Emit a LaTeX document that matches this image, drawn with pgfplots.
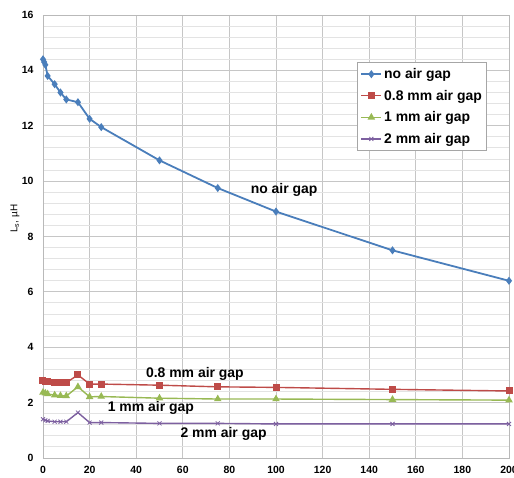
\documentclass[border=0pt]{standalone}
\usepackage{fontspec}
\setmainfont{Liberation Sans}
\usepackage{pgfplots}
\pgfplotsset{compat=1.18}
\definecolor{cblue}{HTML}{4A7EBB}
\definecolor{cred}{HTML}{BE4B48}
\definecolor{cgreen}{HTML}{98B954}
\definecolor{cpurple}{HTML}{7D60A0}
\begin{document}
\begin{tikzpicture}
\useasboundingbox (-43bp,-20bp) rectangle (471bp,458bp);
\begin{axis}[at={(0,0)}, anchor=south west, scale only axis,
  width=466bp, height=443bp,
  xmin=0, xmax=200, ymin=0, ymax=16,
  xtick={0,20,...,200}, ytick={0,2,...,16}, minor y tick num=4,
  grid=both,
  major grid style={draw=gray!45, line width=0.9bp},
  minor grid style={draw=gray!22, line width=0.9bp},
  axis line style={draw=gray!55, line width=0.9bp},
  major tick length=0pt, minor tick length=0pt,
  /pgf/number format/assume math mode=true,
  ticklabel style={font=\fontsize{10.5}{12}\selectfont\bfseries},
  xticklabel style={yshift=-5bp},
  yticklabel style={xshift=-6bp},
  ylabel={L\textsubscript{s}, µH},
  ylabel style={font=\fontsize{10}{12}\selectfont\bfseries},
  every axis y label/.style={at={(axis description cs:-0.06,0.54)}, rotate=90, anchor=center},
  legend style={at={(0.674,0.894)}, anchor=north west, draw=gray!70, line width=0.9bp,
    font=\fontsize{14}{16}\selectfont\bfseries, inner xsep=3bp, inner ysep=4bp,
    row sep=6bp, cells={anchor=west}},
  legend image code/.code={\draw[mark repeat=2,mark phase=2] plot coordinates {(0cm,0cm) (0.35cm,0cm) (0.7cm,0cm)};},
]
\addplot[cblue, line width=1.8bp, mark=diamond*, mark size=2.6bp] coordinates {
(0,14.4) (0.5,14.3) (1,14.2) (2,13.8) (5,13.5) (7.5,13.2) (10,12.95) (15,12.85) (20,12.25) (25,11.95) (50,10.75) (75,9.75) (100,8.9) (150,7.5) (200,6.4)};
\addlegendentry{no air gap}
\addplot[cred, line width=1.4bp, mark=square*, mark size=2.8bp] coordinates {
(0,2.79) (1,2.77) (2,2.76) (5,2.73) (7.5,2.72) (10,2.72) (15,3.0) (20,2.67) (25,2.67) (50,2.63) (75,2.57) (100,2.55) (150,2.48) (200,2.42)};
\addlegendentry{0.8 mm air gap}
\addplot[cgreen, line width=1.4bp, mark=triangle*, mark size=3bp] coordinates {
(0,2.37) (1,2.34) (2,2.31) (5,2.27) (7.5,2.25) (10,2.24) (15,2.57) (20,2.21) (25,2.22) (50,2.16) (75,2.13) (100,2.13) (150,2.11) (200,2.09)};
\addlegendentry{1 mm air gap}
\addplot[cpurple, line width=1.4bp, mark=x, mark size=2.8bp, mark options={line width=0.8bp}] coordinates {
(0,1.40) (1,1.36) (2,1.34) (5,1.31) (7.5,1.31) (10,1.31) (15,1.64) (20,1.28) (25,1.28) (50,1.25) (75,1.25) (100,1.23) (150,1.23) (200,1.23)};
\addlegendentry{2 mm air gap}
\node[font=\fontsize{14}{16}\selectfont\bfseries] at (axis cs:103.5,9.67) {no air gap};
\node[font=\fontsize{14}{16}\selectfont\bfseries] at (axis cs:65.2,3.03) {0.8 mm air gap};
\node[font=\fontsize{14}{16}\selectfont\bfseries] at (axis cs:46.3,1.82) {1 mm air gap};
\node[font=\fontsize{14}{16}\selectfont\bfseries] at (axis cs:77.5,0.87) {2 mm air gap};
\end{axis}
\end{tikzpicture}
\end{document}
